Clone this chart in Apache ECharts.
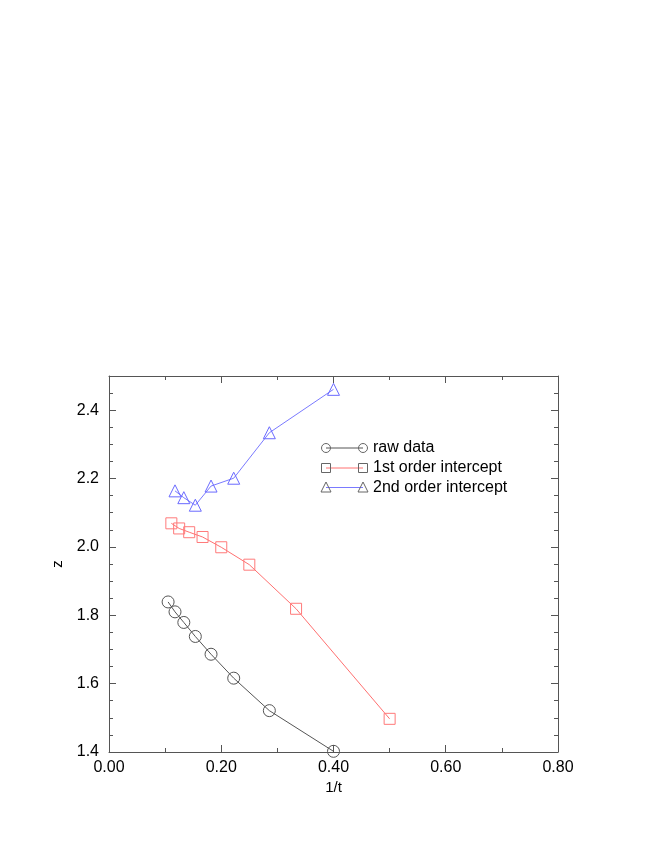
<!DOCTYPE html>
<html>
<head>
<meta charset="utf-8">
<script src="https://cdn.jsdelivr.net/npm/echarts@6/dist/echarts.min.js"></script>
<style>html,body{margin:0;padding:0;background:#fff;}#c{width:654px;height:846px;}</style>
</head>
<body>
<div id="c"></div>
<script>
// data
var rawX = [0.1053, 0.1176, 0.1333, 0.1538, 0.1818, 0.2222, 0.2857, 0.4000];
var rawY = [1.839, 1.810, 1.779, 1.738, 1.686, 1.616, 1.521, 1.402];
var firstX = [0.1111, 0.1250, 0.1429, 0.1667, 0.2000, 0.2500, 0.3333, 0.5000];
var firstY = [2.069, 2.054, 2.043, 2.029, 1.999, 1.948, 1.819, 1.497];
var secondX = [0.1176, 0.1333, 0.1538, 0.1818, 0.2222, 0.2857, 0.4000];
var secondY = [2.164, 2.144, 2.122, 2.178, 2.201, 2.334, 2.461];
var seriesNames = ['raw data', '1st order intercept', '2nd order intercept'];
var xLabelDigits = 2, yLabelDigits = 1;

function zip(a, b) { return a.map(function (v, i) { return [v, b[i]]; }); }

var FONT = 'Liberation Sans, Arial, Helvetica, sans-serif';
var AX = '#555';
var symGray = '#666';
var redLine = '#ff7070', redSym = '#ff7a7a';
var blueLine = '#7a7aff', blueSym = '#6a6aff';

function xAxisDef(pos, interval, len, labels, line) {
  return {
    type: 'value', position: pos, min: 0, max: 0.8, interval: interval,
    gridIndex: 0,
    axisLine: { show: line, onZero: false, lineStyle: { color: AX, width: 1 } },
    axisTick: { show: true, inside: true, length: len, lineStyle: { color: AX, width: 1 } },
    axisLabel: { show: labels, margin: 8, fontSize: 16, color: '#000', fontFamily: FONT,
      formatter: function (v) { return v.toFixed(xLabelDigits); } },
    splitLine: { show: false },
    name: labels ? '1/t' : '', nameLocation: 'middle', nameGap: 28,
    nameTextStyle: { fontSize: 15, color: '#000', fontFamily: FONT }
  };
}
function yAxisDef(pos, interval, len, labels, line) {
  return {
    type: 'value', position: pos, min: 1.4, max: 2.5, interval: interval,
    gridIndex: 0,
    axisLine: { show: line, onZero: false, lineStyle: { color: AX, width: 1 } },
    axisTick: { show: true, inside: true, length: len, lineStyle: { color: AX, width: 1 } },
    axisLabel: { show: labels, margin: 10, fontSize: 16, color: '#000', fontFamily: FONT,
      showMaxLabel: false,
      formatter: function (v) { return v.toFixed(yLabelDigits); } },
    splitLine: { show: false },
    name: labels ? 'z' : '', nameLocation: 'middle', nameGap: 39,
    nameTextStyle: { fontSize: 15, color: '#000', fontFamily: FONT }
  };
}

function legendRow(y, name, lineColor, sym) {
  var x1 = 326, x2 = 363, r = 4.5;
  var children = [{
    type: 'line', shape: { x1: x1, y1: y, x2: x2, y2: y },
    style: { stroke: lineColor, lineWidth: 1 }
  }];
  [x1, x2].forEach(function (cx) {
    if (sym === 'circle') {
      children.push({ type: 'circle', shape: { cx: cx, cy: y, r: r },
        style: { fill: 'none', stroke: symGray, lineWidth: 1 } });
    } else if (sym === 'rect') {
      children.push({ type: 'rect', shape: { x: cx - r, y: y - r, width: 2 * r, height: 2 * r },
        style: { fill: 'none', stroke: symGray, lineWidth: 1 } });
    } else {
      children.push({ type: 'polygon', shape: { points: [[cx, y - r - 1], [cx + r + 0.5, y + r], [cx - r - 0.5, y + r]] },
        style: { fill: 'none', stroke: symGray, lineWidth: 1 } });
    }
  });
  children.push({ type: 'text', x: 373, y: y, style: { text: name, fontSize: 16, fontFamily: FONT,
    fill: '#000', textVerticalAlign: 'middle', textAlign: 'left' } });
  return { type: 'group', children: children };
}

var chart = echarts.init(document.getElementById('c'), null, { renderer: 'canvas' });
chart.setOption({
  backgroundColor: '#fff',
  animation: false,
  grid: { left: 109, right: 96, top: 376, bottom: 94, containLabel: false, show: false },
  xAxis: [
    xAxisDef('bottom', 0.2, 7, true, true),
    xAxisDef('bottom', 0.1, 4, false, false),
    xAxisDef('top', 0.2, 7, false, true),
    xAxisDef('top', 0.1, 4, false, false)
  ],
  yAxis: [
    yAxisDef('left', 0.2, 7, true, true),
    yAxisDef('left', 0.05, 4, false, false),
    yAxisDef('right', 0.2, 7, false, true),
    yAxisDef('right', 0.05, 4, false, false)
  ],
  series: [
    { name: seriesNames[0], type: 'line', data: zip(rawX, rawY), symbol: 'circle', symbolSize: 12,
      lineStyle: { color: '#555', width: 1 },
      itemStyle: { color: 'rgba(0,0,0,0)', borderColor: '#555', borderWidth: 1 } },
    { name: seriesNames[1], type: 'line', data: zip(firstX, firstY), symbol: 'rect', symbolSize: 11,
      lineStyle: { color: redLine, width: 1 },
      itemStyle: { color: 'rgba(0,0,0,0)', borderColor: redSym, borderWidth: 1 } },
    { name: seriesNames[2], type: 'line', data: zip(secondX, secondY), symbol: 'triangle', symbolSize: 12,
      lineStyle: { color: blueLine, width: 1 },
      itemStyle: { color: 'rgba(0,0,0,0)', borderColor: blueSym, borderWidth: 1 } }
  ],
  graphic: [
    legendRow(448, seriesNames[0], '#555', 'circle'),
    legendRow(468, seriesNames[1], redLine, 'rect'),
    legendRow(487.5, seriesNames[2], blueLine, 'triangle')
  ]
});
</script>
</body>
</html>
